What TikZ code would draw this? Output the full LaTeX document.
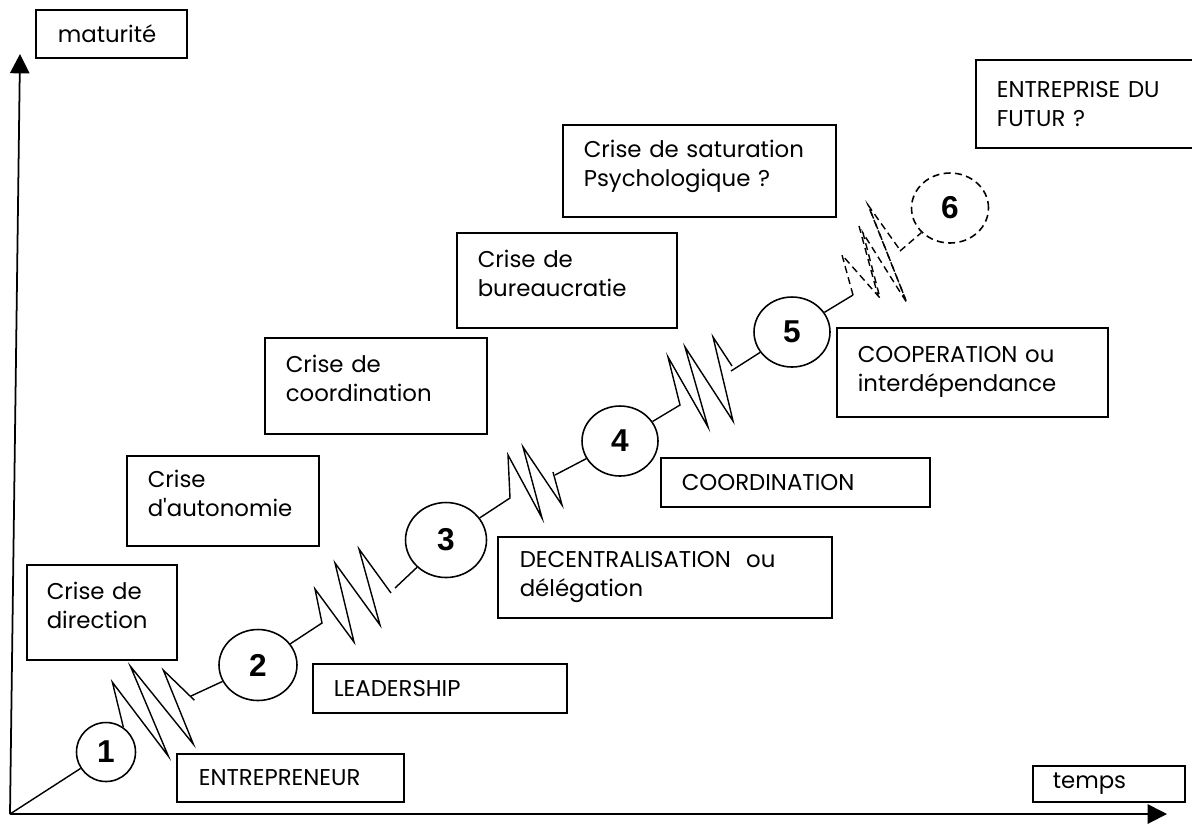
\documentclass[tikz,border=0pt]{standalone}
\usepackage{fontspec}
\setmainfont{Poppins}
\newfontfamily\chiffre{Liberation Sans}
\usetikzlibrary{arrows.meta, shapes.geometric}
\tikzset{
  boite/.style={draw, line width=0.9pt, anchor=north west, align=left, inner ysep=0pt,
    font=\fontsize{13}{16.6}\selectfont},
  crise/.style={boite, text depth=25pt},
  etape/.style={draw, ellipse, line width=0.9pt, inner sep=0pt,
    font=\chiffre\bfseries\fontsize{18}{18}\selectfont},
  ressort/.style={line width=0.8pt},
  futur/.style={dash pattern=on 4pt off 2.5pt},
  axe/.style={line width=1pt, -{Triangle[length=11pt,width=11pt]}},
}

\begin{document}
\begin{tikzpicture}[x=0.02cm, y=-0.02cm]
  \useasboundingbox (0,0) rectangle (1192,823);
  % axes
  \coordinate (o) at (10,814);
  \coordinate (ymax) at (20,54);
  \coordinate (xmax) at (1167,814);
  \draw[axe] (o) -- (ymax);
  \draw[axe] (o) -- (xmax);
  \node[boite, minimum width=3.02cm, minimum height=0.96cm, inner xsep=0.44cm, text width=2.14cm] (maturite) at (35,9) {maturité};
  \node[boite, minimum width=3.04cm, minimum height=0.72cm, inner xsep=0.40cm, text width=2.24cm] (temps) at (1032,765) {temps};

  % crises
  \node[crise, minimum width=3.00cm, minimum height=1.90cm, inner xsep=0.40cm, text width=2.20cm] (direction) at (26,564) {Crise~de\\direction};
  \node[crise, minimum width=3.84cm, minimum height=1.80cm, inner xsep=0.42cm, text width=3.00cm] (autonomie) at (126,455) {Crise\\d\textquotesingle autonomie};
  \node[crise, minimum width=4.44cm, minimum height=1.92cm, inner xsep=0.42cm, text width=3.60cm] (coordcrise) at (264,337) {Crise~de\\coordination};
  \node[crise, minimum width=4.40cm, minimum height=1.90cm, inner xsep=0.42cm, text width=3.56cm] (bureau) at (456,232) {Crise~de\\bureaucratie};
  \node[crise, minimum width=5.46cm, minimum height=1.84cm, inner xsep=0.42cm, text width=4.62cm] (saturation) at (562,124) {Crise~de~saturation\\Psychologique~?};

  % etapes
  \node[boite, minimum width=4.54cm, minimum height=0.96cm, inner xsep=0.44cm, text width=3.66cm] (entrepreneur) at (176,753) {ENTREPRENEUR};
  \node[boite, minimum width=5.08cm, minimum height=0.98cm, inner xsep=0.42cm, text width=4.24cm] (leadership) at (312,663) {LEADERSHIP};
  \node[boite, minimum width=6.68cm, minimum height=1.62cm, inner xsep=0.44cm, text width=5.80cm] (decentral) at (497,536) {DECENTRALISATION~~ou\\délégation};
  \node[boite, minimum width=5.38cm, minimum height=0.98cm, inner xsep=0.42cm, text width=4.54cm] (coordination) at (660,457) {COORDINATION};
  \node[boite, minimum width=5.42cm, minimum height=1.78cm, inner xsep=0.42cm, text width=4.58cm] (cooperation) at (836,327) {COOPERATION~ou\\interdépendance};
  \node[boite, minimum width=4.80cm, minimum height=1.76cm, inner xsep=0.42cm, text width=3.96cm] (futur) at (975,59) {ENTREPRISE~DU\\FUTUR~?};

  % cercles
  \node[etape, minimum width=1.18cm, minimum height=1.18cm] (c1) at (106,752) {1};
  \node[etape, minimum width=1.56cm, minimum height=1.42cm] (c2) at (258,665) {2};
  \node[etape, minimum width=1.62cm, minimum height=1.50cm] (c3) at (446,540) {3};
  \node[etape, minimum width=1.52cm, minimum height=1.40cm] (c4) at (620,441) {4};
  \node[etape, minimum width=1.52cm, minimum height=1.40cm] (c5) at (792,332) {5};
  \node[etape, futur, minimum width=1.54cm, minimum height=1.40cm] (c6) at (950,208) {6};

  % ressorts entre les etapes
  \coordinate (s2) at (322,623);
  \coordinate (s3) at (510,498);
  \coordinate (s4) at (680,405);
  \coordinate (s5) at (853,295);
  \coordinate (f1) at (191,696);
  \coordinate (f2) at (395,588);
  \coordinate (f3) at (555,475);
  \coordinate (f4) at (731,371);
  \coordinate (f5) at (900,251);
  \draw[ressort] (o) -- (c1);
  \draw[ressort] (c1.55) -- ++(-11,-45) -- ++(56,74) -- ++(-38,-90) -- ++(63,78) -- ++(-30,-74) -- ++(31,30);
  \draw[ressort] (f1) -- (c2);
  \draw[ressort] (c2) -- (s2) -- ++(-7,-34) -- ++(39,53) -- ++(-19,-79) -- ++(45,62) -- ++(-21,-76) -- ++(32,44);
  \draw[ressort] (f2) -- (c3);
  \draw[ressort] (c3) -- (s3) -- ++(-2,-43) -- ++(34,63) -- ++(-19,-71) -- ++(39,58) -- ++(-9,-33);
  \draw[ressort] (f3) -- (c4);
  \draw[ressort] (c4) -- (s4) -- ++(-12,-48) -- ++(40,70) -- ++(-23,-80) -- ++(48,74) -- ++(-20,-84) -- ++(19,29);
  \draw[ressort] (f4) -- (c5);
  \draw[ressort] (c5) -- (s5);
  \draw[ressort, futur] (s5) -- ++(-11,-40) -- ++(38,43) -- ++(-17,-65) -- ++(44,70) -- ++(-39,-98) -- ++(32,45);
  % traits doubles du ressort futur
  \draw[ressort, futur] (859,226) -- (878,296);
  \draw[ressort, futur] (871,212) -- (905,298);
  \draw[ressort, futur] (f5) -- (c6);
\end{tikzpicture}
\end{document}
